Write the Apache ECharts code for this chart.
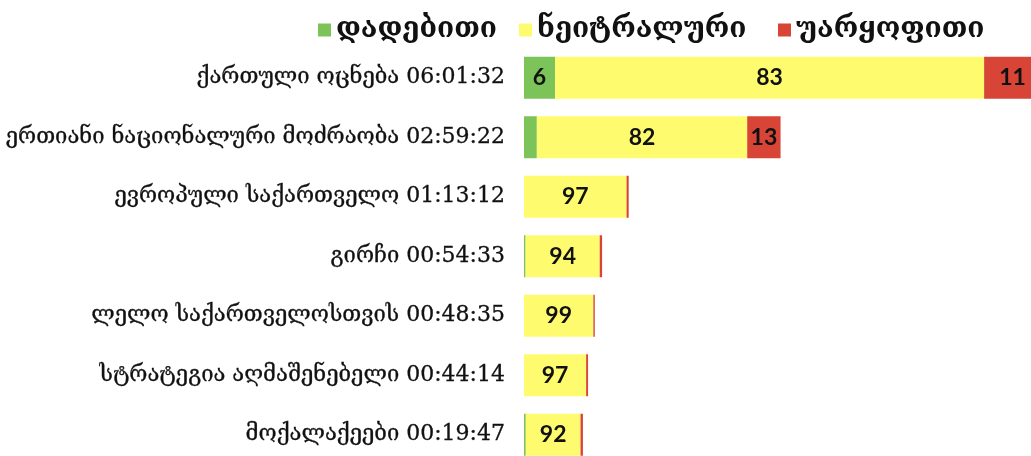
<!DOCTYPE html>
<html>
<head>
<meta charset="utf-8">
<script src="https://cdn.jsdelivr.net/npm/echarts@6/dist/echarts.min.js"></script>
<style>
  html, body { margin: 0; padding: 0; background: #fff; }
  #chart { width: 1031px; height: 456px; }
</style>
</head>
<body>
<div id="chart"></div>
<script>
const categories = [
  "ქართული ოცნება 06:01:32",
  "ერთიანი ნაციონალური მოძრაობა 02:59:22",
  "ევროპული საქართველო 01:13:12",
  "გირჩი 00:54:33",
  "ლელო საქართველოსთვის 00:48:35",
  "სტრატეგია აღმაშენებელი 00:44:14",
  "მოქალაქეები 00:19:47",
];
// bar length in minutes, as drawn in the picture (top bar runs past the right edge)
const barMinutes = [361.5, 179.4, 73.2, 54.6, 49.5, 44.8, 41.2];
const positive = [6, 5, 0, 2, 0, 0, 3];
const neutral = [83, 82, 97, 94, 99, 97, 92];
const negative = [11, 13, 2, 3, 2, 3, 4];

const seriesNames = ["დადებითი", "ნეიტრალური", "უარყოფითი"];
const colors = ["#7cc35a", "#fefc6e", "#d84435"];
const legendLeft = [313, 514, 773];

function segment(pcts) {
  return pcts.map((p, i) => {
    const total = positive[i] + neutral[i] + negative[i];
    const value = (barMinutes[i] * p) / total;
    return {
      value: value,
      pct: p,
      label: { show: value > 15 },
    };
  });
}

const chart = echarts.init(document.getElementById("chart"), null, {
  renderer: "canvas",
});

const labelStyle = {
  position: "inside",
  color: "#111",
  fontSize: 23,
  fontWeight: "bold",
  fontFamily: "Lato, 'DejaVu Sans', sans-serif",
  formatter: (p) => String(p.data.pct),
};

chart.setOption({
  animation: false,
  backgroundColor: "#fff",
  legend: seriesNames.map((name, k) => ({
    data: [name],
    top: 11,
    left: legendLeft[k],
    icon: "rect",
    itemWidth: 13,
    itemHeight: 13,
    textStyle: {
      color: "#111",
      fontSize: 28,
      fontWeight: "bold",
      fontFamily: "'DejaVu Serif', 'DejaVu Sans', sans-serif",
    },
  })),
  grid: {
    left: 524,
    top: 48,
    right: -10,
    bottom: -8.5,
    containLabel: false,
    outerBoundsMode: "none",
  },
  xAxis: {
    type: "value",
    min: 0,
    max: 361.5,
    show: false,
  },
  yAxis: {
    type: "category",
    data: categories,
    inverse: true,
    axisLine: { show: false },
    axisTick: { show: false },
    axisLabel: {
      color: "#111",
      fontSize: 22,
      margin: 19,
      textBorderColor: "#111",
      textBorderWidth: 0.3,
      fontFamily: "'DejaVu Serif', 'DejaVu Sans', sans-serif",
    },
  },
  series: [positive, neutral, negative].map((arr, k) => ({
    name: seriesNames[k],
    type: "bar",
    stack: "total",
    barWidth: 42,
    itemStyle: { color: colors[k] },
    label: labelStyle,
    data: segment(arr),
  })),
});
</script>
</body>
</html>
